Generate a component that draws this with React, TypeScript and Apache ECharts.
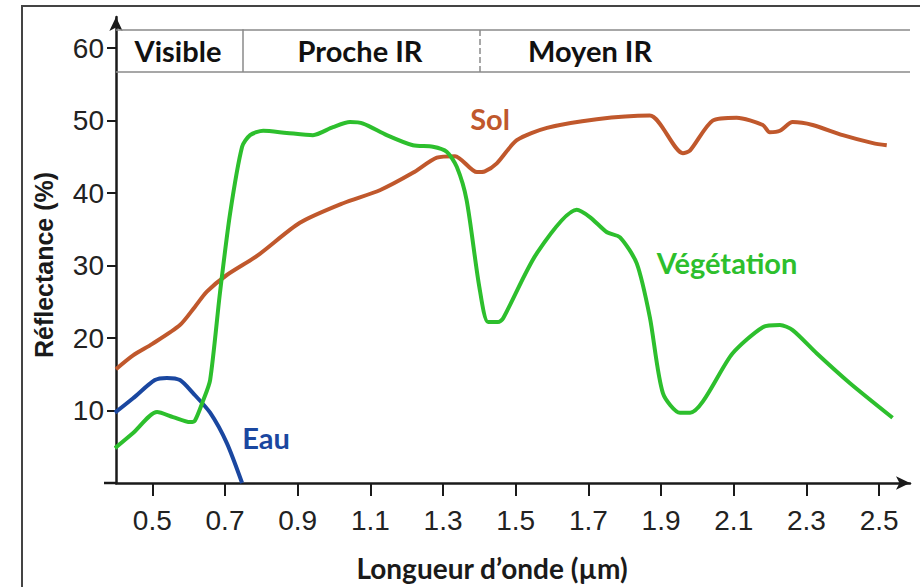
import React, { useEffect, useRef } from "react";
import * as echarts from "echarts";

const xTicks = [0.5, 0.7, 0.9, 1.1, 1.3, 1.5, 1.7, 1.9, 2.1, 2.3, 2.5];
const yTicks = [10, 20, 30, 40, 50, 60];

const solX = [0.40, 0.447, 0.50, 0.576, 0.617, 0.65, 0.705, 0.79, 0.906, 1.025, 1.126, 1.217, 1.283, 1.333, 1.393, 1.415, 1.448, 1.503, 1.586, 1.723, 1.869, 1.96, 1.98, 2.042, 2.108, 2.18, 2.199, 2.227, 2.262, 2.317, 2.40, 2.483, 2.521];
const solY = [15.7, 17.6, 19.2, 21.8, 24.3, 26.4, 28.7, 31.4, 35.9, 38.6, 40.4, 42.8, 44.9, 45.1, 42.9, 43.0, 44.1, 47.3, 49.0, 50.2, 50.7, 45.5, 45.9, 50.0, 50.4, 49.4, 48.4, 48.6, 49.8, 49.4, 48.0, 46.9, 46.6];

const vegX = [0.397, 0.447, 0.513, 0.557, 0.604, 0.617, 0.64, 0.659, 0.686, 0.714, 0.747, 0.769, 0.805, 0.87, 0.942, 0.997, 1.044, 1.08, 1.145, 1.217, 1.272, 1.31, 1.338, 1.365, 1.40, 1.424, 1.451, 1.465, 1.558, 1.668, 1.704, 1.751, 1.787, 1.833, 1.869, 1.905, 1.952, 1.98, 2.097, 2.18, 2.227, 2.262, 2.328, 2.419, 2.537];
const vegY = [4.8, 6.9, 9.8, 9.1, 8.4, 8.6, 11.4, 14.2, 26.2, 37.2, 46.4, 48.0, 48.6, 48.3, 48.0, 49.1, 49.8, 49.6, 48.0, 46.6, 46.4, 45.7, 43.6, 39.0, 27.0, 22.2, 22.2, 22.7, 31.7, 37.7, 36.7, 34.6, 33.9, 30.3, 22.9, 12.4, 9.7, 9.7, 17.9, 21.5, 21.8, 21.1, 17.9, 13.8, 9.0];

const eauX = [0.397, 0.447, 0.507, 0.54, 0.576, 0.612, 0.659, 0.705, 0.747];
const eauY = [9.7, 11.7, 14.2, 14.5, 14.2, 12.4, 9.7, 5.5, 0];

// spectral band header (wavelength bounds and reflectance bounds of the box)
const bandNames = ["Visible", "Proche IR", "Moyen IR"];
const bandEdges = [0.75, 1.4];
const bandTop = 62.6;
const bandBottom = 56.7;

const X_MIN = 0.4;
const X_MAX = 2.585;
const Y_MAX = 64.3;

const zip = (xs: number[], ys: number[]) => xs.map((x, i) => [x, ys[i]]);

const COL_SOL = "#c0582c";
const COL_VEG = "#2dbf2d";
const COL_EAU = "#1a47a0";

export default function App() {
  const ref = useRef<HTMLDivElement>(null);
  useEffect(() => {
    if (!ref.current) return;
    const chart = echarts.init(ref.current, null, { renderer: "svg" });
    const tickFont = "'Liberation Sans Narrow', 'Liberation Sans', Arial, sans-serif";
    const titleFont = "Lato, 'Open Sans', sans-serif";
    const bandLine = { color: "#8a8a8a", width: 1.5, type: "solid" as const };
    const txt = (x: number, y: number, text: string, fill: string, size: number) => ({
      type: "text",
      x,
      y,
      silent: true,
      style: { text, fontFamily: titleFont, fontWeight: "bold", fontSize: size, fill, align: "center", verticalAlign: "middle" },
    });
    const option: any = {
      animation: false,
      backgroundColor: "#ffffff",
      grid: { left: 116, right: 10, top: 17, bottom: 104, containLabel: false },
      xAxis: {
        type: "value",
        min: X_MIN,
        max: X_MAX,
        name: "Longueur d\u2019onde (\u00b5m)",
        nameLocation: "middle",
        nameGap: 71,
        nameTextStyle: { fontFamily: titleFont, fontWeight: "bold", fontSize: 28, color: "#1a1a1a", padding: [0, 42, 0, 0] },
        axisLine: { show: true, symbol: ["none", "arrow"], symbolSize: [10, 14], lineStyle: { color: "#1a1a1a", width: 2.5 } },
        axisTick: { show: true, customValues: xTicks, length: 13, inside: false, lineStyle: { color: "#1a1a1a", width: 2 } },
        axisLabel: {
          customValues: xTicks,
          margin: 23,
          fontFamily: tickFont,
          fontSize: 28,
          color: "#222",
          formatter: (v: number) => v.toFixed(1),
        },
        splitLine: { show: false },
      },
      yAxis: {
        type: "value",
        min: 0,
        max: Y_MAX,
        name: "R\u00e9flectance (%)",
        nameLocation: "middle",
        nameGap: 60,
        nameTextStyle: { fontFamily: "'Liberation Sans', Arial, sans-serif", fontWeight: "bold", fontSize: 25, color: "#1a1a1a", padding: [0, 30, 0, 0] },
        axisLine: { show: true, symbol: ["none", "arrow"], symbolSize: [10, 14], lineStyle: { color: "#1a1a1a", width: 2.5 } },
        axisTick: { show: true, customValues: yTicks, length: 9, inside: false, lineStyle: { color: "#1a1a1a", width: 2 } },
        axisLabel: {
          customValues: yTicks,
          margin: 12,
          fontFamily: tickFont,
          fontSize: 28,
          color: "#222",
        },
        splitLine: { show: false },
      },
      series: [
        {
          name: "Sol",
          type: "line",
          data: zip(solX, solY),
          smooth: 0.25,
          showSymbol: false,
          lineStyle: { color: COL_SOL, width: 4 },
          itemStyle: { color: COL_SOL },
          markLine: {
            silent: true,
            symbol: ["none", "none"],
            label: { show: false },
            lineStyle: bandLine,
            data: [
              [{ coord: [X_MIN, bandTop] }, { coord: [X_MAX, bandTop] }],
              [{ coord: [X_MIN, bandBottom] }, { coord: [X_MAX, bandBottom] }],
              [{ coord: [bandEdges[0], bandBottom] }, { coord: [bandEdges[0], bandTop] }],
              [
                { coord: [bandEdges[1], bandBottom], lineStyle: { color: "#8a8a8a", width: 1.5, type: "dashed" } },
                { coord: [bandEdges[1], bandTop] },
              ],
            ],
          },
          z: 3,
        },
        {
          name: "V\u00e9g\u00e9tation",
          type: "line",
          data: zip(vegX, vegY),
          smooth: 0.25,
          showSymbol: false,
          lineStyle: { color: COL_VEG, width: 4 },
          itemStyle: { color: COL_VEG },
          z: 4,
        },
        {
          name: "Eau",
          type: "line",
          data: zip(eauX, eauY),
          smooth: 0.25,
          showSymbol: false,
          lineStyle: { color: COL_EAU, width: 4 },
          itemStyle: { color: COL_EAU },
          z: 2,
        },
      ],
      graphic: [
        { type: "rect", shape: { x: 22, y: 6, width: 1000, height: 1000 }, style: { fill: "none", stroke: "#444", lineWidth: 2 }, silent: true },
        { type: "line", shape: { x1: 104, y1: 483, x2: 117, y2: 483 }, style: { stroke: "#1a1a1a", lineWidth: 2.5 }, silent: true },
        txt(178, 50, bandNames[0], "#111", 29),
        txt(360, 50, bandNames[1], "#111", 29),
        txt(590, 50, bandNames[2], "#111", 29),
        txt(490, 118, "Sol", COL_SOL, 29),
        txt(727, 262, "V\u00e9g\u00e9tation", COL_VEG, 29),
        txt(266, 437, "Eau", COL_EAU, 29),
      ],
    };
    chart.setOption(option);
    return () => chart.dispose();
  }, []);
  return <div ref={ref} style={{ width: 920, height: 587, position: "absolute", left: 0, top: 0 }} />;
}
